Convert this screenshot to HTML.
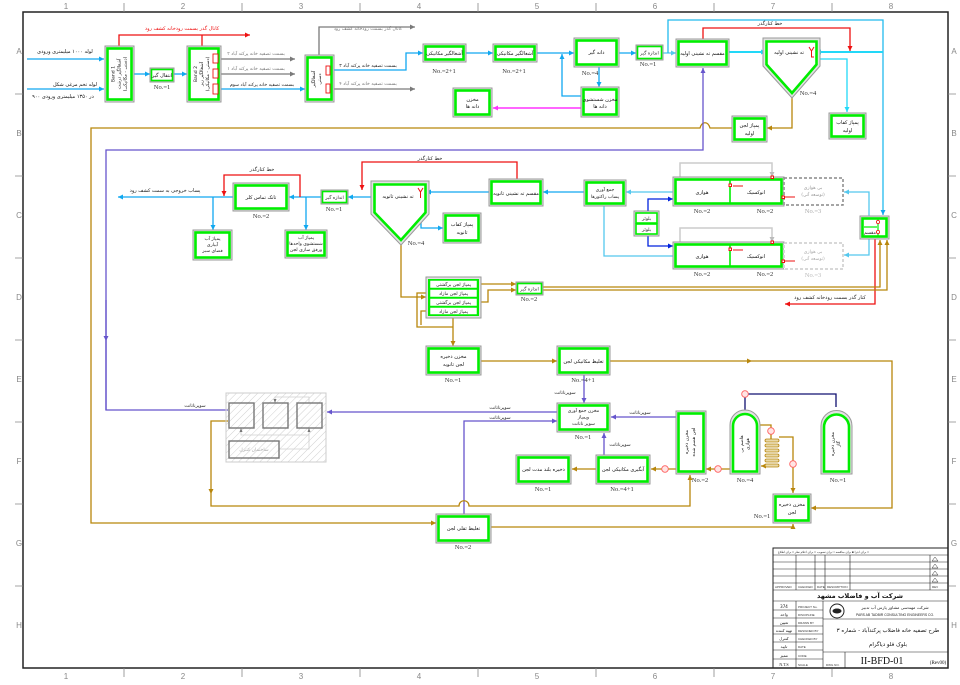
<!DOCTYPE html>
<html><head><meta charset="utf-8"><style>
body{margin:0;background:#fff}
svg{display:block}
.o{fill:#e2e2e2;stroke:#9a9a9a;stroke-width:1}
.i{fill:#fff;stroke:#00ee00;stroke-width:2.6}
.i2{fill:#fff;stroke:#00ee00;stroke-width:1.6}
.t{font-family:"DejaVu Sans",sans-serif;font-size:5px;fill:#111;text-anchor:middle}
.s{font-family:"DejaVu Sans",sans-serif;font-size:4.6px;fill:#222;text-anchor:middle}
.n{font-family:"Liberation Serif",serif;font-size:6.5px;fill:#333;text-anchor:middle}
.l{fill:none;stroke-width:1.3}
.bl{stroke:#10a8f0}.cy{stroke:#22d8f8;stroke-width:2}.lc{stroke:#55c8ee}.rd{stroke:#ee1111}.gy{stroke:#7a7a7a}.lg{stroke:#cccccc;stroke-width:1.5}
.br{stroke:#b8860b}.pu{stroke:#6655cc}.mg{stroke:#ff33ff;stroke-width:1.6}.nv{stroke:#101070}.db{stroke:#0022dd}
.g{font-family:"Liberation Sans",sans-serif;font-size:8px;fill:#888;text-anchor:middle}
.tb{font-family:"Liberation Sans",sans-serif;font-size:3px;fill:#333}
</style></head><body>
<svg width="960" height="685" viewBox="0 0 960 685" xmlns="http://www.w3.org/2000/svg">
<defs>
<marker id="mb" viewBox="0 0 6 6" refX="6" refY="3" markerWidth="5" markerHeight="5" markerUnits="userSpaceOnUse" orient="auto"><path d="M0,0L6,3L0,6z" fill="#10a8f0"/></marker>
<marker id="mc" viewBox="0 0 6 6" refX="6" refY="3" markerWidth="5" markerHeight="5" markerUnits="userSpaceOnUse" orient="auto"><path d="M0,0L6,3L0,6z" fill="#22d8f8"/></marker>
<marker id="ml" viewBox="0 0 6 6" refX="6" refY="3" markerWidth="5" markerHeight="5" markerUnits="userSpaceOnUse" orient="auto"><path d="M0,0L6,3L0,6z" fill="#55c8ee"/></marker>
<marker id="mr" viewBox="0 0 6 6" refX="6" refY="3" markerWidth="5" markerHeight="5" markerUnits="userSpaceOnUse" orient="auto"><path d="M0,0L6,3L0,6z" fill="#ee1111"/></marker>
<marker id="mg" viewBox="0 0 6 6" refX="6" refY="3" markerWidth="5" markerHeight="5" markerUnits="userSpaceOnUse" orient="auto"><path d="M0,0L6,3L0,6z" fill="#7a7a7a"/></marker>
<marker id="mlg" viewBox="0 0 6 6" refX="6" refY="3" markerWidth="5" markerHeight="5" markerUnits="userSpaceOnUse" orient="auto"><path d="M0,0L6,3L0,6z" fill="#bbbbbb"/></marker>
<marker id="mbr" viewBox="0 0 6 6" refX="6" refY="3" markerWidth="5" markerHeight="5" markerUnits="userSpaceOnUse" orient="auto"><path d="M0,0L6,3L0,6z" fill="#b8860b"/></marker>
<marker id="mp" viewBox="0 0 6 6" refX="6" refY="3" markerWidth="5" markerHeight="5" markerUnits="userSpaceOnUse" orient="auto"><path d="M0,0L6,3L0,6z" fill="#6655cc"/></marker>
<marker id="mm" viewBox="0 0 6 6" refX="6" refY="3" markerWidth="5" markerHeight="5" markerUnits="userSpaceOnUse" orient="auto"><path d="M0,0L6,3L0,6z" fill="#ff33ff"/></marker>
<marker id="md" viewBox="0 0 6 6" refX="6" refY="3" markerWidth="5" markerHeight="5" markerUnits="userSpaceOnUse" orient="auto"><path d="M0,0L6,3L0,6z" fill="#0022dd"/></marker>
<pattern id="hat" width="5" height="5" patternUnits="userSpaceOnUse" patternTransform="rotate(45)"><line x1="0" y1="0" x2="0" y2="5" stroke="#c4c4c4" stroke-width="0.8"/></pattern>
</defs>

<!-- frame -->
<rect x="23" y="12" width="925" height="656" fill="none" stroke="#222" stroke-width="1.5"/>
<g stroke="#888" stroke-width="0.8">
<path d="M124,3V12M242,3V12M360,3V12M478,3V12M596,3V12M714,3V12M832,3V12"/>
<path d="M124,668V677M242,668V677M360,668V677M478,668V677M596,668V677M714,668V677M832,668V677"/>
<path d="M15,94H23M15,176H23M15,258H23M15,340H23M15,422H23M15,504H23M15,586H23"/>
<path d="M948,94H956M948,176H956M948,258H956M948,340H956M948,422H956M948,504H956M948,586H956"/>
</g>
<g class="g">
<text x="66" y="9">1</text><text x="183" y="9">2</text><text x="301" y="9">3</text><text x="419" y="9">4</text><text x="537" y="9">5</text><text x="655" y="9">6</text><text x="773" y="9">7</text><text x="891" y="9">8</text>
<text x="66" y="679">1</text><text x="183" y="679">2</text><text x="301" y="679">3</text><text x="419" y="679">4</text><text x="537" y="679">5</text><text x="655" y="679">6</text><text x="773" y="679">7</text><text x="891" y="679">8</text>
<text x="19" y="54">A</text><text x="19" y="136">B</text><text x="19" y="218">C</text><text x="19" y="300">D</text><text x="19" y="382">E</text><text x="19" y="464">F</text><text x="19" y="546">G</text><text x="19" y="628">H</text>
<text x="954" y="54">A</text><text x="954" y="136">B</text><text x="954" y="218">C</text><text x="954" y="300">D</text><text x="954" y="382">E</text><text x="954" y="464">F</text><text x="954" y="546">G</text><text x="954" y="628">H</text>
</g>

<!-- ===== LINES ===== -->
<!-- inlet -->
<path class="l bl" d="M27,59H104" marker-end="url(#mb)"/>
<path class="l bl" d="M27,89H104" marker-end="url(#mb)"/>
<path class="l bl" d="M134,74H150" marker-end="url(#mb)"/>
<path class="l bl" d="M174,74H187" marker-end="url(#mb)"/>
<path class="l bl" d="M221,89H305" marker-end="url(#mb)"/>
<path class="l gy" d="M221,59H295" marker-end="url(#mg)"/>
<path class="l gy" d="M221,74H295" marker-end="url(#mg)"/>
<path class="l gy" d="M319,55V27H415" marker-end="url(#mg)"/>
<path class="l gy" d="M334,89H415" marker-end="url(#mg)"/>
<path class="l rd" d="M119,46V35H250" marker-end="url(#mr)"/>
<path class="l rd" d="M202,46V35"/>
<path class="l bl" d="M334,70H406V53H423" marker-end="url(#mb)"/>
<path class="l bl" d="M466,53H493" marker-end="url(#mb)"/>
<path class="l bl" d="M537,53H574" marker-end="url(#mb)"/>
<path class="l bl" d="M581,96H562V54" marker-end="url(#mb)"/>
<path class="l bl" d="M599,67V87" marker-end="url(#mb)"/>
<path class="l mg" d="M581,108H493" marker-end="url(#mm)"/>
<path class="l bl" d="M619,53H636" marker-end="url(#mb)"/>
<path class="l lc" d="M663,53H676" marker-end="url(#ml)"/>
<path class="l" stroke="#22bbee" d="M668,53V20H883V215" marker-end="url(#mb)"/>
<path class="l rd" d="M703,39V28H850V51" marker-end="url(#mr)"/>
<path class="l cy" d="M729,52H766" marker-end="url(#mc)"/>
<path class="l cy" d="M883,52H816" marker-end="url(#mc)"/>
<path class="l cy" d="M815,59H847V112" marker-end="url(#mc)" style="stroke-width:1.3"/>
<path class="l br" d="M792,95V128H767" marker-end="url(#mbr)"/>
<path class="l br" d="M732,128H710C708,121 702,121 700,128H91V523H436" marker-end="url(#mbr)"/>
<path class="l pu" d="M106,410H106V150H703V68" marker-end="url(#mp)"/>
<path class="l pu" d="M106,300V410H228"/>
<polygon points="103.5,336 108.5,336 106,341" fill="#6655cc"/>

<!-- secondary -->
<path class="l rd" d="M517,179V162H362V190" marker-end="url(#mr)"/>
<path class="l bl" d="M489,192H426" marker-end="url(#mb)"/>
<path class="l bl" d="M584,192H543" marker-end="url(#mb)"/>
<path class="l bl" d="M421,200V228H443" marker-end="url(#mb)"/>
<path class="l bl" d="M374,197H348" marker-end="url(#mb)"/>
<path class="l bl" d="M321,197H289" marker-end="url(#mb)"/>
<path class="l bl" d="M233,197H118" marker-end="url(#mb)"/>
<path class="l bl" d="M306,197V230" marker-end="url(#mb)"/>
<path class="l bl" d="M213,197V230" marker-end="url(#mb)"/>
<path class="l rd" d="M300,197V175H224V196" marker-end="url(#mr)"/>
<path class="l lc" d="M673,192H626" marker-end="url(#ml)"/>
<path class="l lc" d="M604,206V256H673"/>
<path class="l db" d="M648,211V199H673" marker-end="url(#md)"/>
<path class="l db" d="M648,236V246H673" marker-end="url(#md)"/>
<polygon points="645.5,214 650.5,214 648,209" fill="#0022dd"/>
<polygon points="645.5,233 650.5,233 648,238" fill="#0022dd"/>
<path class="l lg" d="M680,177V163H772V177" marker-end="url(#mlg)"/>
<path class="l lg" d="M680,242V228H772V242" marker-end="url(#mlg)"/>
<path class="l lc" d="M869,216V192H844" marker-end="url(#ml)"/>
<path class="l lc" d="M869,239V255H844" marker-end="url(#ml)"/>
<path class="l rd" d="M875,239V304H785" marker-end="url(#mr)"/>
<path class="l br" d="M543,287H880V240" marker-end="url(#mbr)"/>
<path class="l br" d="M543,290H887V240" marker-end="url(#mbr)"/>

<!-- sludge -->
<path class="l br" d="M401,242V297H426" marker-end="url(#mbr)"/>
<path class="l br" d="M481,284H516" marker-end="url(#mbr)"/>
<path class="l br" d="M481,302H488V290H516" marker-end="url(#mbr)"/>
<path class="l br" d="M426,293H417V327H453"/>
<path class="l br" d="M426,311H421V325"/>
<path class="l br" d="M453,318V346" marker-end="url(#mbr)"/>
<path class="l br" d="M481,361H557" marker-end="url(#mbr)"/>
<path class="l br" d="M610,361H892V508H811" marker-end="url(#mbr)"/>
<polygon points="747,358.5 752,361 747,363.5" fill="#b8860b"/>
<path class="l pu" d="M584,375V403" marker-end="url(#mp)"/>
<path class="l pu" d="M557,412H327" marker-end="url(#mp)"/>
<path class="l pu" d="M464,514V421H557" marker-end="url(#mp)"/>
<path class="l pu" d="M676,417H611" marker-end="url(#mp)"/>
<path class="l pu" d="M604,455V433" marker-end="url(#mp)"/>
<path class="l br" d="M228,421H211V506H459C459,499 469,499 469,506H690V475" marker-end="url(#mbr)"/>
<polygon points="208.5,489 213.5,489 211,494" fill="#b8860b"/>
<path class="l br" d="M491,527H793V524" marker-end="url(#mbr)"/>
<path class="l br" d="M730,469H706" marker-end="url(#mbr)"/>
<path class="l br" d="M676,469H651" marker-end="url(#mbr)"/>
<path class="l br" d="M596,469H572" marker-end="url(#mbr)"/>
<path class="l br" d="M760,425H771V439"/>
<path class="l br" d="M779,437H793V493" marker-end="url(#mbr)"/>
<path class="l br" d="M765,466H761" marker-end="url(#mbr)"/>
<path class="l nv" d="M745,410V394H836V407"/>
<!-- coil -->
<g fill="#e8d8a8" stroke="#b8860b" stroke-width="0.8">
<rect x="765" y="439" width="14" height="3" rx="1.5"/><rect x="765" y="444" width="14" height="3" rx="1.5"/><rect x="765" y="449" width="14" height="3" rx="1.5"/><rect x="765" y="454" width="14" height="3" rx="1.5"/><rect x="765" y="459" width="14" height="3" rx="1.5"/><rect x="765" y="464" width="14" height="3" rx="1.5"/>
</g>
<!-- red circles -->
<g fill="#ffe4e4" stroke="#ff6060" stroke-width="0.9">
<circle cx="665" cy="469" r="3.3"/><circle cx="718" cy="469" r="3.3"/><circle cx="745" cy="394" r="3.3"/><circle cx="771" cy="431" r="3.3"/><circle cx="793" cy="464" r="3.3"/>
</g>

<!-- ===== BOXES ===== -->
<!-- screen1 -->
<rect class="o" x="105" y="46" width="29" height="56"/><rect class="i" x="107.5" y="48.5" width="24" height="51"/>
<g transform="translate(119.5,74) rotate(-90)" class="s"><text y="-5">Band 1</text><text y="1">آشغالگیر درشت</text><text y="7">(دستی - مکانیکی)</text></g>
<rect class="o" x="150" y="68" width="24" height="14"/><rect class="i2" x="151.5" y="69.5" width="21" height="11"/>
<text class="t" x="162" y="77">انتقال گیر</text><text class="n" x="162" y="89">No.=1</text>
<!-- screen2 -->
<rect class="o" x="187" y="46" width="34" height="56"/><rect class="i" x="189.5" y="48.5" width="29" height="51"/>
<g transform="translate(201,74) rotate(-90)" class="s"><text y="-4">Band 2</text><text y="2">آشغالگیر ریز</text><text y="8">(دستی - مکانیکی)</text></g>
<g fill="#fff" stroke="#ee1111" stroke-width="0.9"><rect x="213" y="54" width="5" height="9"/><rect x="213" y="69" width="5" height="9"/><rect x="213" y="84" width="5" height="10"/></g>
<!-- screen3 -->
<rect class="o" x="305" y="55" width="29" height="47"/><rect class="i" x="307.5" y="57.5" width="24" height="42"/>
<g transform="translate(317,79) rotate(-90)" class="s"><text y="-2">آشغالگیر</text><text y="4">دستی</text></g>
<g fill="#fff" stroke="#ee1111" stroke-width="0.9"><rect x="326" y="66" width="4" height="9"/><rect x="326" y="84" width="4" height="9"/></g>
<!-- mech screens -->
<rect class="o" x="423" y="44" width="43" height="18"/><rect class="i" x="425.5" y="46.5" width="38" height="13"/><text class="t" x="444.5" y="55">آشغالگیر مکانیکی</text><text class="n" x="444" y="73">No.=2+1</text>
<rect class="o" x="493" y="44" width="44" height="18"/><rect class="i" x="495.5" y="46.5" width="39" height="13"/><text class="t" x="515" y="55">آشغالگیر مکانیکی</text><text class="n" x="514" y="73">No.=2+1</text>
<rect class="o" x="574" y="38" width="45" height="29"/><rect class="i" x="576.5" y="40.5" width="40" height="24"/><text class="t" x="596.5" y="54">دانه گیر</text><text class="n" x="590" y="75">No.=4</text>
<rect class="o" x="581" y="87" width="38" height="30"/><rect class="i" x="583.5" y="89.5" width="33" height="25"/><text class="t" x="600" y="101">مخزن شستشوی</text><text class="t" x="600" y="108">دانه ها</text>
<rect class="o" x="453" y="88" width="39" height="29"/><rect class="i" x="455.5" y="90.5" width="34" height="24"/><text class="t" x="472.5" y="101">مخزن</text><text class="t" x="472.5" y="108">دانه ها</text>
<rect class="o" x="636" y="45" width="27" height="15"/><rect class="i2" x="637.5" y="46.5" width="24" height="12"/><text class="s" x="649.5" y="54.5">اندازه گیر</text><text class="n" x="648" y="66">No.=1</text>
<rect class="o" x="676" y="39" width="53" height="28"/><rect class="i" x="678.5" y="41.5" width="48" height="23"/><text class="t" x="702.5" y="55">مقسم ته نشینی اولیه</text>
<text class="t" x="770" y="25" style="fill:#222">خط کنارگذر</text>
<!-- primary clarifier -->
<polygon points="763,38 820,38 820,66 792,98 763,66" fill="#e2e2e2" stroke="#9a9a9a" stroke-width="1"/>
<polygon points="766.5,41.5 816.5,41.5 816.5,64.5 792,93 766.5,64.5" fill="#fff" stroke="#00ee00" stroke-width="2.6"/>
<text class="t" x="789" y="54">ته نشینی اولیه</text><text class="n" x="808" y="95">No.=4</text>
<path d="M809,47L811.5,51L814,47M811.5,51V57H814" fill="none" stroke="#ee1111" stroke-width="1"/>
<rect class="o" x="732" y="116" width="35" height="26"/><rect class="i" x="734.5" y="118.5" width="30" height="21"/><text class="t" x="749.5" y="127">پمپاژ لجن</text><text class="t" x="749.5" y="135">اولیه</text>
<rect class="o" x="829" y="113" width="37" height="26"/><rect class="i" x="831.5" y="115.5" width="32" height="21"/><text class="t" x="847.5" y="124">پمپاژ کفاب</text><text class="t" x="847.5" y="132">اولیه</text>

<!-- secondary row -->
<text class="t" x="430" y="160" style="fill:#222">خط کنارگذر</text>
<rect class="o" x="489" y="179" width="54" height="27"/><rect class="i" x="491.5" y="181.5" width="49" height="22"/><text class="t" x="516" y="195">مقسم ته نشینی ثانویه</text>
<polygon points="371,181 429,181 429,214 401,245 371,214" fill="#e2e2e2" stroke="#9a9a9a" stroke-width="1"/>
<polygon points="374.5,184.5 425.5,184.5 425.5,212.5 401,240 374.5,212.5" fill="#fff" stroke="#00ee00" stroke-width="2.6"/>
<text class="t" x="398" y="198">ته نشینی ثانویه</text><text class="n" x="416" y="245">No.=4</text>
<path d="M418,188L420.5,192L423,188M420.5,192V198" fill="none" stroke="#ee1111" stroke-width="1"/>
<rect class="o" x="443" y="213" width="38" height="30"/><rect class="i" x="445.5" y="215.5" width="33" height="25"/><text class="t" x="462" y="226">پمپاژ کفاب</text><text class="t" x="462" y="234">ثانویه</text>
<rect class="o" x="321" y="190" width="27" height="14"/><rect class="i2" x="322.5" y="191.5" width="24" height="11"/><text class="s" x="334.5" y="199">اندازه گیر</text><text class="n" x="334" y="211">No.=1</text>
<rect class="o" x="233" y="183" width="56" height="28"/><rect class="i" x="235.5" y="185.5" width="51" height="23"/><text class="t" x="261" y="199">تانک تماس کلر</text><text class="n" x="261" y="218">No.=2</text>
<text class="t" x="262" y="171" style="fill:#222">خط کنارگذر</text>
<text class="t" x="165" y="192" style="fill:#222">پساب خروجی به سمت کشف رود</text>
<rect class="o" x="285" y="230" width="42" height="28"/><rect class="i" x="287.5" y="232.5" width="37" height="23"/><text class="s" x="306" y="239">پمپاژ آب</text><text class="s" x="306" y="245">شستشوی واحدها</text><text class="s" x="306" y="251">ورفق سازی لجن</text>
<rect class="o" x="193" y="230" width="39" height="30"/><rect class="i" x="195.5" y="232.5" width="34" height="25"/><text class="s" x="212.5" y="240">پمپاژ آب</text><text class="s" x="212.5" y="246">آبیاری</text><text class="s" x="212.5" y="252">فضای سبز</text>

<!-- aeration -->
<rect class="o" x="584" y="180" width="42" height="26"/><rect class="i" x="586.5" y="182.5" width="37" height="21"/><text class="s" x="605" y="191">جمع آوری</text><text class="s" x="605" y="198">پساب راکتورها</text>
<rect class="o" x="634" y="211" width="25" height="25"/><rect class="i2" x="636" y="213" width="21" height="10"/><rect class="i2" x="636" y="224" width="21" height="10"/><text class="s" x="646.5" y="220">بلوئر</text><text class="s" x="646.5" y="231">بلوئر</text>
<rect class="o" x="673" y="177" width="111" height="29"/><rect class="i" x="675.5" y="179.5" width="106" height="24"/><line x1="730" y1="180" x2="730" y2="203" stroke="#00ee00" stroke-width="1.6"/>
<text class="t" x="702" y="194">هوازی</text><text class="t" x="756" y="194">انوکسیک</text>
<rect x="784" y="178" width="59" height="27" fill="#fff" stroke="#888" stroke-width="1.5" stroke-dasharray="3,2"/>
<text class="s" x="813" y="189" style="fill:#999">بی هوازی</text><text class="s" x="813" y="196" style="fill:#999">(توسعه آتی)</text>
<text class="n" x="702" y="213">No.=2</text><text class="n" x="765" y="213">No.=2</text><text class="n" x="813" y="213" style="fill:#aaa">No.=3</text>
<rect class="o" x="673" y="242" width="111" height="27"/><rect class="i" x="675.5" y="244.5" width="106" height="22"/><line x1="730" y1="245" x2="730" y2="266" stroke="#00ee00" stroke-width="1.6"/>
<text class="t" x="702" y="258">هوازی</text><text class="t" x="756" y="258">انوکسیک</text>
<rect x="784" y="243" width="59" height="26" fill="#fff" stroke="#ccc" stroke-width="1.5" stroke-dasharray="3,2"/>
<text class="s" x="813" y="253" style="fill:#aaa">بی هوازی</text><text class="s" x="813" y="260" style="fill:#aaa">(توسعه آتی)</text>
<text class="n" x="702" y="276">No.=2</text><text class="n" x="765" y="276">No.=2</text><text class="n" x="813" y="277" style="fill:#bbb">No.=3</text>
<g stroke="#ee1111" stroke-width="1" fill="#fff">
<path d="M733,186H743M785,197H795M733,250H743M785,261H795"/>
<rect x="729" y="184" width="2.5" height="2.5"/><rect x="771" y="176" width="2.5" height="2.5"/><rect x="782" y="196" width="2.5" height="2.5"/>
<rect x="729" y="248" width="2.5" height="2.5"/><rect x="771" y="241" width="2.5" height="2.5"/><rect x="782" y="260" width="2.5" height="2.5"/>
</g>
<!-- splitter -->
<rect class="o" x="860" y="216" width="29" height="23"/><rect class="i" x="862.5" y="218.5" width="24" height="18"/>
<line x1="864" y1="227" x2="877" y2="227" stroke="#00ee00" stroke-width="1.2"/><line x1="878" y1="219" x2="878" y2="236" stroke="#00ee00" stroke-width="1.2"/>
<text class="s" x="870" y="234">مقسم</text>
<g fill="#fff" stroke="#ee1111" stroke-width="0.8"><circle cx="878" cy="222" r="1.6"/><circle cx="878" cy="232" r="1.6"/></g>
<text class="t" x="830" y="299" style="fill:#222">کنار گذر بسمت رودخانه کشف رود</text>

<!-- sludge pumps -->
<rect class="o" x="426" y="277" width="55" height="41"/><rect x="428" y="279" width="51" height="37" fill="#00ee00"/>
<g fill="#fff" stroke="#00ee00" stroke-width="0.5"><rect x="430" y="280.5" width="47" height="7.5"/><rect x="430" y="289.5" width="47" height="7.5"/><rect x="430" y="298.5" width="47" height="7.5"/><rect x="430" y="307.5" width="47" height="7"/></g>
<text class="s" x="453.5" y="286">پمپاژ لجن برگشتی</text><text class="s" x="453.5" y="295">پمپاژ لجن مازاد</text><text class="s" x="453.5" y="304">پمپاژ لجن برگشتی</text><text class="s" x="453.5" y="313">پمپاژ لجن مازاد</text>
<rect class="o" x="516" y="282" width="27" height="13"/><rect class="i2" x="517.5" y="283.5" width="24" height="10"/><text class="s" x="529.5" y="290.5">اندازه گیر</text><text class="n" x="529" y="301">No.=2</text>
<rect class="o" x="426" y="346" width="55" height="29"/><rect class="i" x="428.5" y="348.5" width="50" height="24"/><text class="t" x="453.5" y="358">مخزن ذخیره</text><text class="t" x="453.5" y="366">لجن ثانویه</text><text class="n" x="453" y="382">No.=1</text>
<rect class="o" x="557" y="346" width="53" height="29"/><rect class="i" x="559.5" y="348.5" width="48" height="24"/><text class="t" x="583.5" y="363">تغلیظ مکانیکی لجن</text><text class="n" x="583" y="382">No.=4+1</text>
<text class="s" x="565" y="394">سوپرناتانت</text>
<rect class="o" x="557" y="403" width="53" height="29"/><rect class="i" x="559.5" y="405.5" width="48" height="24"/><text class="s" x="583.5" y="412">مخزن جمع آوری</text><text class="s" x="583.5" y="418.5">وپمپاژ</text><text class="s" x="583.5" y="425">سوپر ناتانت</text><text class="n" x="583" y="439">No.=1</text>
<text class="s" x="500" y="409">سوپرناتانت</text><text class="s" x="500" y="419">سوپرناتانت</text><text class="s" x="640" y="414">سوپرناتانت</text><text class="s" x="620" y="446">سوپرناتانت</text><text class="s" x="195" y="407">سوپرناتانت</text>
<rect class="o" x="596" y="455" width="54" height="29"/><rect class="i" x="598.5" y="457.5" width="49" height="24"/><text class="t" x="623" y="471">آبگیری مکانیکی لجن</text><text class="n" x="622" y="491">No.=4+1</text>
<rect class="o" x="516" y="455" width="55" height="29"/><rect class="i" x="518.5" y="457.5" width="50" height="24"/><text class="t" x="543.5" y="471">ذخیره بلند مدت لجن</text><text class="n" x="543" y="491">No.=1</text>
<rect class="o" x="676" y="411" width="30" height="63"/><rect class="i" x="678.5" y="413.5" width="25" height="58"/>
<g transform="translate(691,442) rotate(-90)" class="s"><text y="-3">مخزن ذخیره</text><text y="4">لجن هضم شده</text></g>
<text class="n" x="700" y="482">No.=2</text>
<!-- digester & gas holder -->
<path d="M730,474V425A15,15 0 0 1 760,425V474Z" fill="#e2e2e2" stroke="#9a9a9a"/>
<path d="M733,471.5V426A12,12 0 0 1 757,426V471.5Z" fill="#fff" stroke="#00ee00" stroke-width="2.6"/>
<g transform="translate(745,444) rotate(-90)" class="s"><text y="-2">هاضم بی</text><text y="4">هوازی</text></g>
<text class="n" x="745" y="482">No.=4</text>
<path d="M821,474V426A15.5,15.5 0 0 1 852,426V474Z" fill="#e2e2e2" stroke="#9a9a9a"/>
<path d="M824,471.5V427A12.5,12.5 0 0 1 849,427V471.5Z" fill="#fff" stroke="#00ee00" stroke-width="2.6"/>
<g transform="translate(836,444) rotate(-90)" class="s"><text y="-2">مخزن ذخیره</text><text y="4">گاز</text></g>
<text class="n" x="838" y="482">No.=1</text>
<rect class="o" x="773" y="494" width="38" height="29"/><rect class="i" x="775.5" y="496.5" width="33" height="24"/><text class="t" x="792" y="506">مخزن ذخیره</text><text class="t" x="792" y="514">لجن</text><text class="n" x="762" y="518">No.=1</text>
<rect class="o" x="436" y="514" width="55" height="29"/><rect class="i" x="438.5" y="516.5" width="50" height="24"/><text class="t" x="463.5" y="530">تغلیظ ثقلی لجن</text><text class="n" x="463" y="549">No.=2</text>

<!-- hatched -->
<rect x="226" y="393" width="100" height="69" fill="url(#hat)" stroke="#cccccc" stroke-width="1"/>
<g fill="none" stroke="#cfcfcf" stroke-width="0.8"><path d="M241,428V435H309V428M275,403V397H309V403M279,449H309V428"/></g>
<g fill="none" stroke="#777" stroke-width="1.4"><rect x="229" y="403" width="25" height="25"/><rect x="263" y="403" width="25" height="25"/><rect x="297" y="403" width="25" height="25"/><rect x="229" y="441" width="50" height="17"/></g>
<g fill="#777"><polygon points="239.5,432 242.5,432 241,428"/><polygon points="273.5,399 276.5,399 275,403"/><polygon points="307.5,432 310.5,432 309,428"/></g>
<text class="s" x="254" y="451" style="fill:#aaa">ساختمان کنترل</text>

<!-- top labels -->
<text class="t" x="65" y="53">لوله ۱۰۰۰ میلیمتری ورودی</text>
<text class="t" x="75" y="86">لوله تخم مرغی شکل</text>
<text class="t" x="63" y="98">۹۰۰ در ۱۳۵۰ میلیمتری ورودی</text>
<text class="t" x="182" y="30" style="fill:#ee1111">کانال گذر بسمت رودخانه کشف رود</text>
<text class="s" x="256" y="55" style="fill:#777">بسمت تصفیه خانه پرکند آباد ۲</text>
<text class="s" x="256" y="70" style="fill:#777">بسمت تصفیه خانه پرکند آباد ۱</text>
<text class="s" x="262" y="86">بسمت تصفیه خانه پرکند آباد سوم</text>
<text class="s" x="368" y="30" style="fill:#777">کانال گذر بسمت رودخانه کشف رود</text>
<text class="s" x="368" y="67">بسمت تصفیه خانه پرکند آباد ۳</text>
<text class="s" x="368" y="85" style="fill:#777">بسمت تصفیه خانه پرکند آباد ۴</text>

<!-- title block -->
<g fill="none" stroke="#222" stroke-width="0.6">
<rect x="773" y="548" width="175" height="120" stroke-width="1"/>
<path d="M773,555H948M773,562H948M773,569H948M773,576H948M773,583H948M773,590H948M773,601H948"/>
<path d="M796,555V590M815,555V590M825,555V590M850,555V590M930,555V590"/>
<path d="M823,601V668M796,601V668M823,619H948M823,652H948"/>
<path d="M773,610H823M773,618H823M773,626H823M773,634H823M773,642H823M773,650H823M773,659H823M845,652V668"/>
</g>
<g fill="none" stroke="#333" stroke-width="0.5"><path d="M935,557L938,561H932ZM935,564L938,568H932ZM935,571L938,575H932ZM935,578L938,582H932Z"/></g>
<text class="tb" x="778" y="553">برای اجرا ■  برای مناقصه □  برای تصویب □  برای اعلام نظر □  برای اطلاع □</text>
<text class="tb" x="775" y="588">APPROVED</text><text class="tb" x="798" y="588">CHECKED</text><text class="tb" x="817" y="588">DATE</text><text class="tb" x="827" y="588">DESCRIPTION</text><text class="tb" x="932" y="588">REV</text>
<text x="860" y="598" style="font-family:'DejaVu Sans',sans-serif;font-size:6.5px;font-weight:bold;fill:#111;text-anchor:middle">شرکت آب و فاضلاب مشهد</text>
<circle cx="837" cy="611" r="7" fill="#fff" stroke="#222" stroke-width="1"/><ellipse cx="837" cy="611" rx="4.5" ry="2.5" fill="#222"/>
<text x="895" y="609" style="font-family:'DejaVu Sans',sans-serif;font-size:4.2px;fill:#222;text-anchor:middle">شرکت مهندسی مشاور پارس آب تدبیر</text>
<text x="895" y="616" style="font-family:'Liberation Sans',sans-serif;font-size:3.4px;fill:#222;text-anchor:middle">PARS AB TADBIR CONSULTING ENGINEERS CO.</text>
<text x="888" y="632" style="font-family:'DejaVu Sans',sans-serif;font-size:5.5px;fill:#111;text-anchor:middle">طرح تصفیه خانه فاضلاب پرکندآباد - شماره ۳</text>
<text x="888" y="646" style="font-family:'DejaVu Sans',sans-serif;font-size:5.5px;fill:#111;text-anchor:middle">بلوک فلو دیاگرام</text>
<text x="882" y="664" style="font-family:'Liberation Serif',serif;font-size:10px;fill:#111;text-anchor:middle">II-BFD-01</text>
<text x="938" y="664" style="font-family:'Liberation Serif',serif;font-size:5px;fill:#111;text-anchor:middle">(Rev00)</text>
<text class="tb" x="826" y="666">DWG NO.</text>
<g style="font-family:'DejaVu Sans',sans-serif;font-size:4px;fill:#111;text-anchor:middle">
<text x="784" y="608">374</text><text x="784" y="616">واحد</text><text x="784" y="624">تعیین</text><text x="784" y="632">تهیه کننده</text><text x="784" y="640">کنترل</text><text x="784" y="648">تایید</text><text x="784" y="657">ممیز</text><text x="784" y="666" style="font-family:'Liberation Serif',serif">N.T.S</text>
</g>
<g class="tb"><text x="798" y="608">PROJECT No.</text><text x="798" y="616">DISCIPLINE</text><text x="798" y="624">DRAWN BY</text><text x="798" y="632">DESIGNED BY</text><text x="798" y="640">CHECKED BY</text><text x="798" y="648">DATE</text><text x="798" y="657">CODE</text><text x="798" y="666">SCALE</text></g>
</svg>
</body></html>
